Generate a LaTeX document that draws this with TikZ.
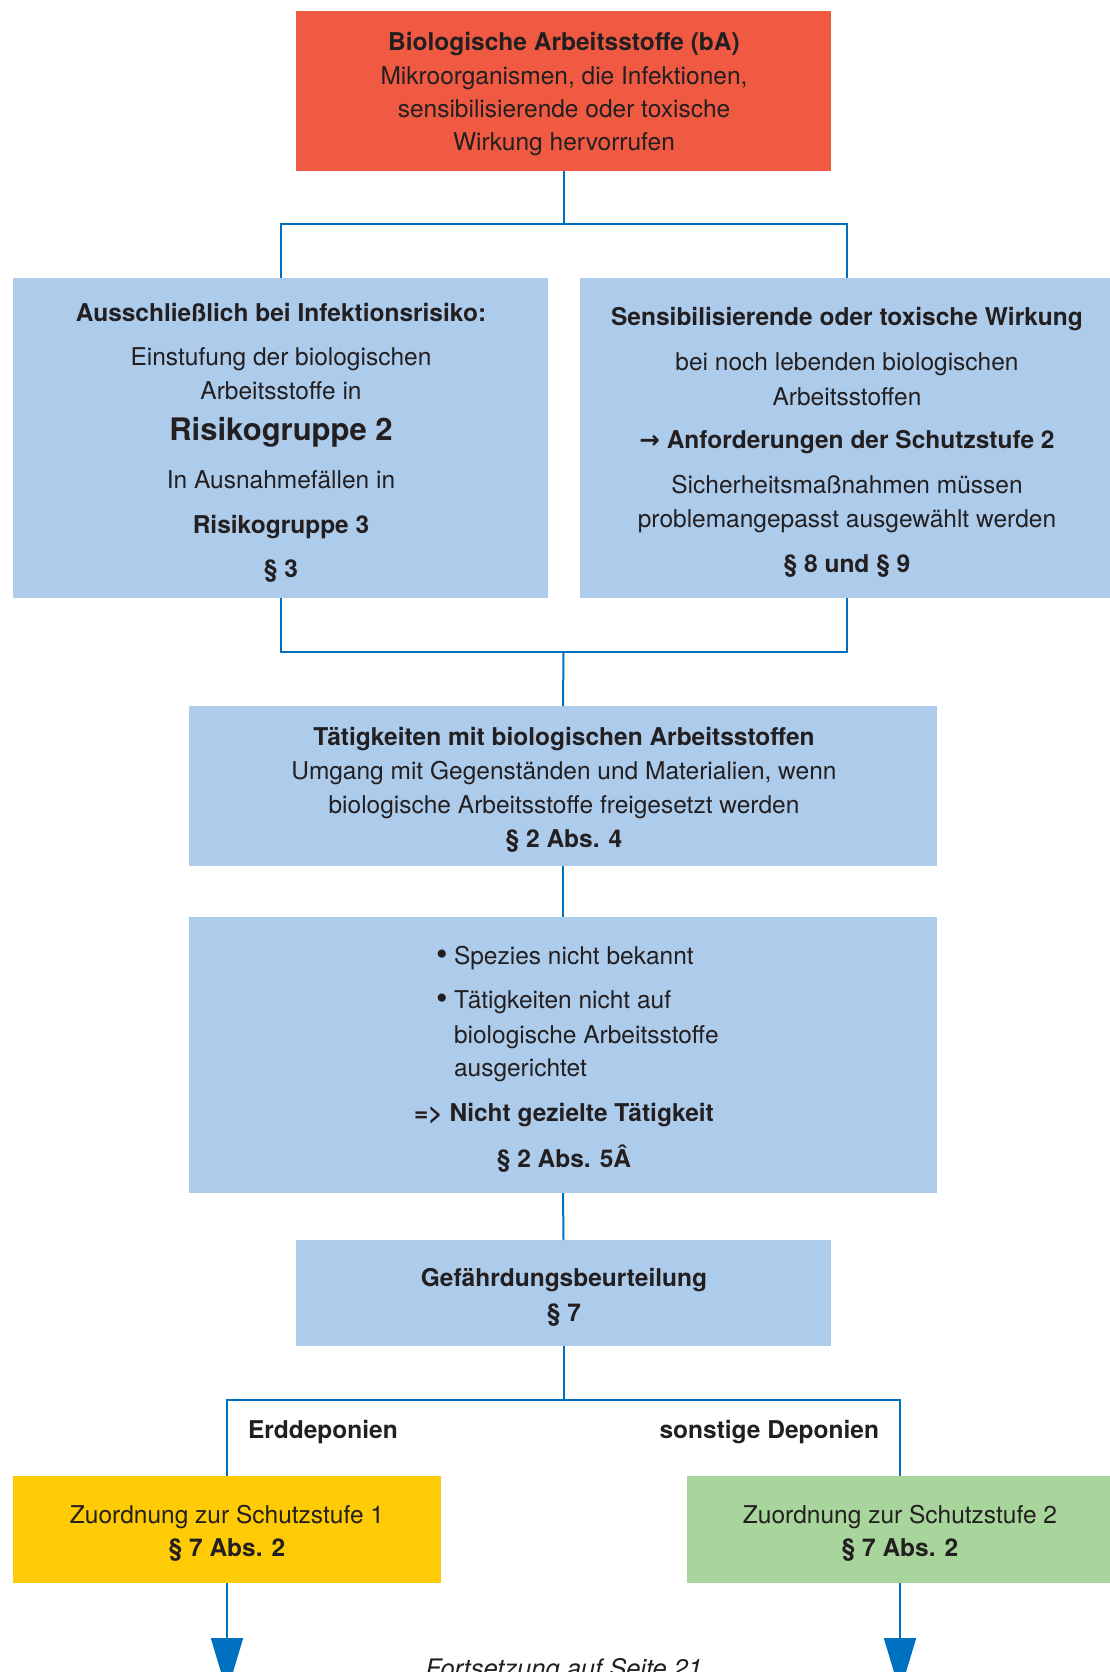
\documentclass[tikz,border=0pt]{standalone}
\usepackage{fontspec}
\setmainfont{TeX Gyre Heros}
\newfontfamily\symfont{DejaVu Sans}
\usetikzlibrary{arrows.meta}
\definecolor{cred}{RGB}{241,90,66}
\definecolor{cblue}{RGB}{173,203,235}
\definecolor{cline}{RGB}{0,112,192}
\definecolor{cyellow}{RGB}{255,203,5}
\definecolor{cgreen}{RGB}{168,213,155}
\definecolor{ctext}{RGB}{35,31,32}
\tikzset{
  bx/.style={draw=none, inner sep=0pt, outer sep=0pt},
  tl/.style={anchor=base, inner sep=0pt, outer sep=0pt, text=ctext, font=\fontsize{24.5}{33}\selectfont},
  tb/.style={tl, font=\fontsize{24.5}{33}\selectfont\bfseries},
  conn/.style={draw=cline, line width=2pt},
  arr/.style={conn, -{Triangle[width=32pt,length=54pt]}}
}
\begin{document}
\begin{tikzpicture}[x=1pt,y=-1pt]
\useasboundingbox (0,0) rectangle (1109,1672);
% boxes
\node[bx, fill=cred, minimum width=535pt, minimum height=160pt] (top) at (563.5,91) {};
\node[bx, fill=cblue, minimum width=535pt, minimum height=320pt] (left) at (280.5,438) {};
\node[bx, fill=cblue, minimum width=534pt, minimum height=320pt] (right) at (847,438) {};
\node[bx, fill=cblue, minimum width=748pt, minimum height=160pt] (act) at (563,786) {};
\node[bx, fill=cblue, minimum width=748pt, minimum height=276pt] (nz) at (563,1055) {};
\node[bx, fill=cblue, minimum width=535pt, minimum height=106pt] (gb) at (563.5,1293) {};
\node[bx, fill=cyellow, minimum width=428pt, minimum height=107pt] (ss1) at (227,1529.5) {};
\node[bx, fill=cgreen, minimum width=426pt, minimum height=107pt] (ss2) at (900,1529.5) {};
% top text
\node[tb] (t1) at (564,51) {Biologische Arbeitsstoffe (bA)};
\node[tl] (t2) at (564,85) {Mikroorganismen, die Infektionen,};
\node[tl] (t3) at (564,118) {sensibilisierende oder toxische};
\node[tl] (t4) at (564,151) {Wirkung hervorrufen};
% left text
\node[tb] (l1) at (281,321) {Ausschließlich bei Infektionsrisiko:};
\node[tl] (l2) at (281,365) {Einstufung der biologischen};
\node[tl] (l3) at (281,399) {Arbeitsstoffe in};
\node[tb, font=\fontsize{31}{36}\selectfont\bfseries] (l4) at (281,440) {Risikogruppe 2};
\node[tl] (l5) at (281,488) {In Ausnahmefällen in};
\node[tb] (l6) at (281,533) {Risikogruppe 3};
\node[tb] (l7) at (281,577) {§ 3};
% right text
\node[tb] (r1) at (847,325) {Sensibilisierende oder toxische Wirkung};
\node[tl] (r2) at (847,370) {bei noch lebenden biologischen};
\node[tl] (r3) at (847,405) {Arbeitsstoffen};
\node[tb] (r4) at (847,448) {{\symfont\bfseries →} Anforderungen der Schutzstufe 2};
\node[tl] (r5) at (847,493) {Sicherheitsmaßnahmen müssen};
\node[tl] (r6) at (847,527) {problemangepasst ausgewählt werden};
\node[tb] (r7) at (847,572) {§ 8 und § 9};
% activity text
\node[tb] (a1) at (564,745) {Tätigkeiten mit biologischen Arbeitsstoffen};
\node[tl] (a2) at (564,779) {Umgang mit Gegenständen und Materialien, wenn};
\node[tl] (a3) at (564,813) {biologische Arbeitsstoffe freigesetzt werden};
\node[tb] (a4) at (564,847) {§ 2 Abs. 4};
% non-targeted text
\node[tl, font=\symfont\fontsize{28}{33}\selectfont] (b1) at (442,964) {•};
\node[tl, anchor=base west] (n1) at (454,964) {Spezies nicht bekannt};
\node[tl, font=\symfont\fontsize{28}{33}\selectfont] (b2) at (442,1008) {•};
\node[tl, anchor=base west] (n2) at (454,1008) {Tätigkeiten nicht auf};
\node[tl, anchor=base west] (n3) at (454,1043) {biologische Arbeitsstoffe};
\node[tl, anchor=base west] (n4) at (454,1076) {ausgerichtet};
\node[tb] (n5) at (564,1121) {=> Nicht gezielte Tätigkeit};
\node[tb] (n6) at (564,1167) {§ 2 Abs. 5Â};
% assessment
\node[tb] (g1) at (564,1286) {Gefährdungsbeurteilung};
\node[tb] (g2) at (564,1321) {§ 7};
% branch labels
\node[tb, anchor=base west] (e1) at (248,1438) {Erddeponien};
\node[tb, anchor=base east] (e2) at (879,1438) {sonstige Deponien};
% bottom boxes text
\node[tl] (y1) at (227,1523) {Zuordnung zur Schutzstufe 1};
\node[tb] (y2) at (227,1556) {§ 7 Abs. 2};
\node[tl] (z1) at (900,1523) {Zuordnung zur Schutzstufe 2};
\node[tb] (z2) at (900,1556) {§ 7 Abs. 2};
\node[tl, font=\fontsize{25.5}{33}\selectfont\itshape] (cont) at (564,1677) {Fortsetzung auf Seite 21};
% junctions
\coordinate (j1) at (563.5,224);
\coordinate (j2) at (563.5,651.5);
\coordinate (j3) at (563.5,1400);
\coordinate (e3) at (227,1692);
\coordinate (e4) at (900,1692);
% connectors
\draw[conn] (top.south) -- (j1);
\draw[conn] (left.north) |- (j1) -| (right.north);
\draw[conn] (left.south) |- (j2) -| (right.south);
\draw[conn] (j2) -- (act.north);
\draw[conn] (act.south) -- (nz.north);
\draw[conn] (nz.south) -- (gb.north);
\draw[conn] (gb.south) -- (j3);
\draw[conn] (ss1.north) |- (j3) -| (ss2.north);
\draw[arr] (ss1.south) -- (e3);
\draw[arr] (ss2.south) -- (e4);
\end{tikzpicture}
\end{document}
